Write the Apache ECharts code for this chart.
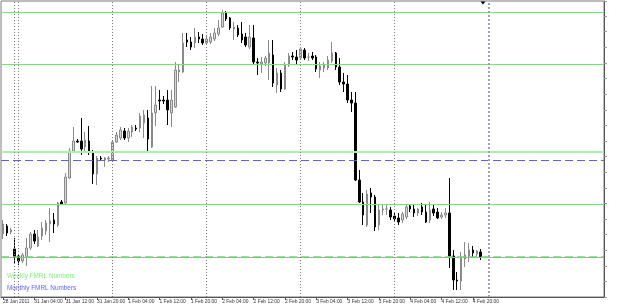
<!DOCTYPE html>
<html><head><meta charset="utf-8">
<script src="https://cdn.jsdelivr.net/npm/echarts@6/dist/echarts.min.js"></script>
<style>html,body{margin:0;padding:0;background:#fff}#c{width:625px;height:307px}</style>
</head><body><div id="c"></div>
<script>
// Hourly EURUSD bars, 28 Jan 2011 21:00 .. 4 Feb 2011 22:00
const tickLabels = ['28 Jan 2011','31 Jan 04:00','31 Jan 12:00','31 Jan 20:00','1 Feb 04:00','1 Feb 12:00','1 Feb 20:00','2 Feb 04:00','2 Feb 12:00','2 Feb 20:00','3 Feb 04:00','3 Feb 12:00','3 Feb 20:00','4 Feb 04:00','4 Feb 12:00','4 Feb 20:00'];
const opens = [
 1.3648,1.3656,1.3650,1.3633,1.3626,1.3621,1.3625,1.3634,1.3648,1.3636,
 1.3646,1.3651,1.3658,1.3662,1.3657,1.3680,1.3679,1.3704,1.3731,1.3741,
 1.3741,1.3735,1.3741,1.3730,1.3708,1.3724,1.3722,1.3723,1.3722,1.3740,
 1.3744,1.3751,1.3744,1.3750,1.3754,1.3754,1.3759,1.3764,1.3735,1.3769,
 1.3782,1.3782,1.3782,1.3769,1.3775,1.3810,1.3810,1.3842,1.3840,1.3839,
 1.3845,1.3843,1.3839,1.3840,1.3843,1.3848,1.3855,1.3869,1.3864,1.3853,
 1.3854,1.3848,1.3845,1.3835,1.3844,1.3820,1.3818,1.3819,1.3819,1.3827,
 1.3797,1.3809,1.3793,1.3817,1.3826,1.3825,1.3824,1.3832,1.3825,1.3826,
 1.3825,1.3812,1.3814,1.3814,1.3821,1.3829,1.3815,1.3800,1.3798,1.3782,
 1.3779,1.3702,1.3680,1.3657,1.3689,1.3685,1.3657,1.3672,1.3673,1.3672,
 1.3666,1.3664,1.3662,1.3665,1.3676,1.3673,1.3669,1.3675,1.3670,1.3662,
 1.3673,1.3670,1.3665,1.3667,1.3669,1.3626,1.3602,1.3601,1.3623,1.3626,
 1.3632,1.3628,1.3630];
const closes = [
 1.3658,1.3649,1.3652,1.3625,1.3621,1.3627,1.3634,1.3648,1.3641,1.3645,
 1.3654,1.3659,1.3661,1.3658,1.3679,1.3678,1.3705,1.3731,1.3741,1.3740,
 1.3733,1.3742,1.3730,1.3708,1.3724,1.3723,1.3724,1.3724,1.3740,1.3747,
 1.3752,1.3744,1.3751,1.3755,1.3753,1.3766,1.3767,1.3743,1.3769,1.3777,
 1.3781,1.3781,1.3772,1.3782,1.3812,1.3812,1.3839,1.3840,1.3835,1.3845,
 1.3843,1.3839,1.3843,1.3845,1.3849,1.3854,1.3869,1.3863,1.3854,1.3855,
 1.3847,1.3842,1.3837,1.3845,1.3820,1.3819,1.3820,1.3824,1.3829,1.3799,
 1.3809,1.3793,1.3817,1.3826,1.3825,1.3822,1.3833,1.3824,1.3825,1.3824,
 1.3813,1.3816,1.3817,1.3822,1.3829,1.3815,1.3800,1.3798,1.3782,1.3779,
 1.3702,1.3680,1.3667,1.3688,1.3685,1.3655,1.3672,1.3673,1.3673,1.3665,
 1.3663,1.3660,1.3668,1.3675,1.3673,1.3669,1.3673,1.3670,1.3660,1.3672,
 1.3669,1.3664,1.3667,1.3669,1.3626,1.3602,1.3601,1.3625,1.3627,1.3632,
 1.3629,1.3631,1.3625];
const lows = [
 1.3643,1.3646,1.3648,1.3619,1.3617,1.3619,1.3616,1.3632,1.3638,1.3635,
 1.3642,1.3647,1.3640,1.3649,1.3655,1.3677,1.3677,1.3703,1.3730,1.3739,
 1.3727,1.3730,1.3727,1.3698,1.3697,1.3721,1.3715,1.3720,1.3721,1.3739,
 1.3742,1.3742,1.3740,1.3745,1.3751,1.3750,1.3744,1.3731,1.3734,1.3756,
 1.3772,1.3778,1.3757,1.3755,1.3774,1.3800,1.3809,1.3835,1.3832,1.3834,
 1.3839,1.3837,1.3837,1.3838,1.3841,1.3846,1.3854,1.3861,1.3852,1.3842,
 1.3845,1.3839,1.3835,1.3833,1.3818,1.3807,1.3809,1.3816,1.3802,1.3795,
 1.3789,1.3790,1.3792,1.3815,1.3822,1.3818,1.3822,1.3822,1.3821,1.3822,
 1.3810,1.3804,1.3810,1.3812,1.3819,1.3812,1.3797,1.3790,1.3779,1.3770,
 1.3701,1.3679,1.3657,1.3655,1.3669,1.3651,1.3652,1.3667,1.3667,1.3662,
 1.3660,1.3657,1.3659,1.3663,1.3670,1.3665,1.3666,1.3667,1.3659,1.3659,
 1.3666,1.3663,1.3663,1.3664,1.3614,1.3592,1.3592,1.3592,1.3615,1.3620,
 1.3624,1.3624,1.3622];
const highs = [
 1.3662,1.3658,1.3654,1.3644,1.3628,1.3629,1.3644,1.3650,1.3652,1.3652,
 1.3660,1.3662,1.3674,1.3669,1.3680,1.3682,1.3709,1.3734,1.3755,1.3743,
 1.3764,1.3750,1.3756,1.3732,1.3726,1.3726,1.3725,1.3726,1.3742,1.3750,
 1.3755,1.3754,1.3754,1.3757,1.3757,1.3769,1.3772,1.3772,1.3796,1.3796,
 1.3792,1.3786,1.3792,1.3792,1.3820,1.3817,1.3849,1.3849,1.3845,1.3854,
 1.3850,1.3848,1.3847,1.3849,1.3854,1.3862,1.3872,1.3871,1.3865,1.3860,
 1.3857,1.3860,1.3849,1.3857,1.3857,1.3824,1.3825,1.3826,1.3842,1.3842,
 1.3814,1.3812,1.3820,1.3829,1.3830,1.3832,1.3835,1.3834,1.3829,1.3830,
 1.3827,1.3820,1.3820,1.3826,1.3840,1.3830,1.3824,1.3809,1.3807,1.3790,
 1.3790,1.3712,1.3689,1.3692,1.3694,1.3687,1.3677,1.3677,1.3677,1.3675,
 1.3670,1.3669,1.3670,1.3677,1.3677,1.3677,1.3674,1.3679,1.3677,1.3680,
 1.3677,1.3674,1.3670,1.3674,1.3704,1.3632,1.3610,1.3630,1.3640,1.3639,
 1.3636,1.3632,1.3633];
const weeklyLevels = [1.3870, 1.3818, 1.3678];
const weeklyPaleLevel = [1.3730];
const weeklyDashedLevel = [1.3625];
const monthlyLevels = [1.3722];
const bidPrice = 1.3625;
const daySeparators = [3, 4, 28, 52, 76, 100];
const nextDaySeparator = [124];
const NSLOTS = 154;

const cats = Array.from({length: NSLOTS}, (_, i) => String(i));
const candles = opens.map((o, i) => [o, closes[i], lows[i], highs[i]]);
const showTick = (i) => i % 8 === 0 && i <= 120;

const mlData = [];
mlData.push({yAxis: bidPrice, lineStyle: {color: '#a8a8a8', width: 1, type: 'solid'}});
weeklyLevels.forEach(v => mlData.push({yAxis: v, lineStyle: {color: '#66ee66', width: 1, type: 'solid'}}));
weeklyPaleLevel.forEach(v => mlData.push({yAxis: v, lineStyle: {color: '#a8f2a8', width: 2, type: 'solid'}}));
weeklyDashedLevel.forEach(v => mlData.push({yAxis: v, lineStyle: {color: '#66dd66', width: 1.5, type: [8, 4]}}));
monthlyLevels.forEach(v => mlData.push({yAxis: v, lineStyle: {color: '#5c5cff', width: 1, type: [8, 4]}}));
daySeparators.forEach(v => mlData.push({xAxis: String(v), lineStyle: {color: '#777', width: 1, type: [1, 2]}}));
nextDaySeparator.forEach(v => mlData.push({xAxis: String(v), lineStyle: {color: '#a0a0b8', width: 2, type: [2, 2]}}));

const chart = echarts.init(document.getElementById('c'), null, {renderer: 'canvas'});
chart.setOption({
  animation: false,
  backgroundColor: '#fff',
  grid: {left: 1, right: 21, top: 1, bottom: 10, show: true, borderColor: '#7a7a7a', borderWidth: 1, backgroundColor: '#fff'},
  xAxis: {
    type: 'category', data: cats, boundaryGap: true,
    axisLine: {show: true, lineStyle: {color: '#555'}},
    axisTick: {show: true, alignWithLabel: true, interval: showTick, length: 3, lineStyle: {color: '#555'}},
    axisLabel: {interval: showTick, formatter: (v, i) => tickLabels[i / 8] || '', align: 'left', margin: 2,
      fontSize: 4.9, color: '#333', fontFamily: 'Liberation Sans'},
    splitLine: {show: false}
  },
  yAxis: [
    {type: 'value', min: 1.3585, max: 1.3881, show: false, splitLine: {show: false}},
    {type: 'value', position: 'right', min: 0, max: 18.97, interval: 1,
      axisLine: {show: true, lineStyle: {color: '#555'}},
      axisTick: {show: true, length: 3, lineStyle: {color: '#999'}},
      axisLabel: {show: false}, splitLine: {show: false}}
  ],
  series: [{
    type: 'candlestick', data: candles, barWidth: 2, yAxisIndex: 0,
    itemStyle: {color: '#d6d6d6', color0: '#000', borderColor: '#8a8a8a', borderColor0: '#000', borderWidth: 1},
    markLine: {symbol: ['none', 'none'], precision: 4, silent: true, animation: false, label: {show: false}, data: mlData}
  }],
  graphic: [
    {type: 'text', left: 7, top: 273, style: {text: 'Weekly FMRL Numbers', fill: '#7fef7f', font: '6.4px "Liberation Sans"'}},
    {type: 'text', left: 7, top: 285, style: {text: 'Monthly FMRL Numbers', fill: '#6262ff', font: '6.4px "Liberation Sans"'}},
    {type: 'polygon', shape: {points: [[480.5, 1.5], [485.5, 1.5], [483, 4.5]]}, style: {fill: '#000'}}
  ]
});
</script>
</body></html>
